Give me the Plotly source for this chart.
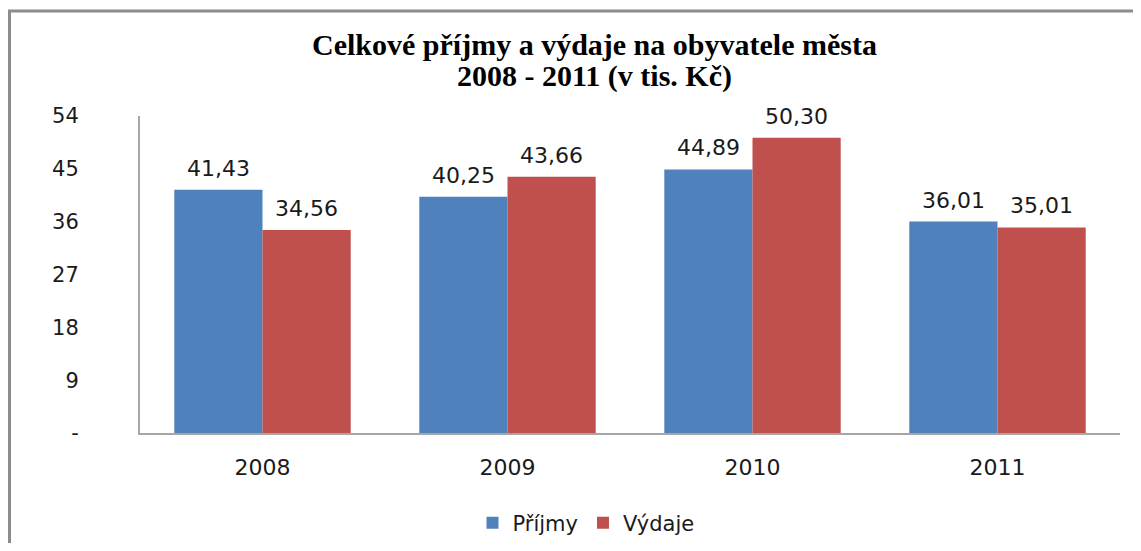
import plotly.graph_objects as go

years = ["2008", "2009", "2010", "2011"]
prijmy = [41.43, 40.25, 44.89, 36.01]
vydaje = [34.56, 43.66, 50.30, 35.01]
ytick_vals = [0, 9, 18, 27, 36, 45, 54]
ytick_text = ["-", "9", "18", "27", "36", "45", "54"]
title_lines = ["Celkové příjmy a výdaje na obyvatele města", "2008 - 2011 (v tis. Kč)"]

# page body has an 8px margin; figure sized so it fits inside the window
W, H = 1125, 535
L, R, T, B = 132, 13, 108, 110
pw, ph = W - L - R, H - T - B
BARGAP = 0.28

def px_x(x):
    return (x - L) / pw

def px_y(y):
    return (H - B - y) / ph

def fmt(v):
    return f"{v:.2f}".replace(".", ",")

txt_color = "#1a1a1a"
blue, red = "#4F81BD", "#C0504D"

fig = go.Figure()
fig.add_trace(go.Bar(x=years, y=prijmy, name="Příjmy", marker_color=blue,
                     marker_line_width=0))
fig.add_trace(go.Bar(x=years, y=vydaje, name="Výdaje", marker_color=red,
                     marker_line_width=0))

# data labels above each bar (x given as category index on the category axis)
half_bar = pw / len(years) * (1 - BARGAP) / 4
for series, sign in ((prijmy, -1), (vydaje, 1)):
    for i, v in enumerate(series):
        fig.add_annotation(x=i, y=v, xref="x", yref="y", text=fmt(v),
                           showarrow=False, xanchor="center", yanchor="bottom",
                           xshift=sign * half_bar, yshift=7,
                           font=dict(family="DejaVu Sans", size=22, color=txt_color))

# title lines
for i, line in enumerate(title_lines):
    fig.add_annotation(x=px_x(586), y=px_y(36 + 32 * i), xref="paper", yref="paper",
                       text=f"<b>{line}</b>", showarrow=False,
                       xanchor="center", yanchor="middle",
                       font=dict(family="Liberation Serif", size=30, color="black"))

fig.update_layout(
    width=W, height=H,
    margin=dict(l=L, r=R, t=T, b=B, autoexpand=False),
    paper_bgcolor="white", plot_bgcolor="white",
    barmode="group", bargap=BARGAP, bargroupgap=0,
    showlegend=True,
    legend=dict(orientation="h", x=px_x(578), xanchor="center", y=px_y(515), yanchor="middle",
                font=dict(family="DejaVu Sans", size=21, color=txt_color),
                traceorder="normal", itemwidth=30),
    font=dict(family="DejaVu Sans", size=21, color=txt_color),
)
fig.update_xaxes(type="category", range=[-0.5, len(years) - 0.5],
                 showline=True, linecolor="#A6A6A6", linewidth=2,
                 showgrid=False, ticks="",
                 tickfont=dict(family="DejaVu Sans", size=22, color=txt_color),
                 ticklabelstandoff=14)
fig.update_yaxes(range=[0, 54], tickvals=ytick_vals, ticktext=ytick_text,
                 showline=True, linecolor="#A6A6A6", linewidth=2, showgrid=False,
                 zeroline=False, ticks="",
                 tickfont=dict(family="DejaVu Sans", size=21, color=txt_color),
                 ticklabelstandoff=55)

fig.add_shape(type="path", xref="paper", yref="paper",
              path=f"M {px_x(1.5)} {px_y(H + 5)} L {px_x(1.5)} {px_y(3)} L {px_x(W + 5)} {px_y(3)}",
              line=dict(color="#8C8C8C", width=3))

fig.write_html("out.html")
